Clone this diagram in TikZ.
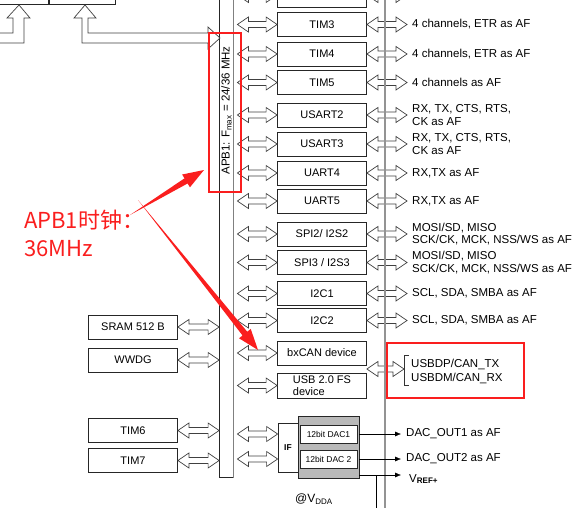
\documentclass[tikz,border=0pt]{standalone}
\usepackage{fontspec}
\setmainfont{Liberation Sans}
\newfontfamily\cjk{Noto Sans CJK SC}
\usetikzlibrary{arrows.meta, calc, positioning}

\definecolor{markred}{RGB}{250,30,30}

\tikzset{
  box/.style={draw=black!85, line width=0.8pt, fill=white, minimum width=89pt, minimum height=24pt, inner sep=0pt, font=\fontsize{11}{12}\selectfont},
  pintext/.style={anchor=west, align=left, inner sep=0pt, font=\fontsize{11.5}{12.5}\selectfont},
  hollow/.style={draw=black!75, line width=0.7pt, fill=white, line join=miter},
  redbox/.style={draw=markred, line width=2.5pt, inner sep=0pt}
}

% hollow double arrow between two points (same height as the first one)
\newcommand{\hollowdbl}[2]{%
  \draw[hollow] let \p1=(#1), \p2=(#2) in
    (\x1,\y1) -- (\x1+11pt,\y1+7.5pt) -- (\x1+11pt,\y1+3pt) -- (\x2-11pt,\y1+3pt)
    -- (\x2-11pt,\y1+7.5pt) -- (\x2,\y1) -- (\x2-11pt,\y1-7.5pt) -- (\x2-11pt,\y1-3pt)
    -- (\x1+11pt,\y1-3pt) -- (\x1+11pt,\y1-7.5pt) -- cycle;}

% tapered red pointer from #1 to #2
\newcommand{\redpointer}[2]{%
  \coordinate (hb) at ($(#2)!21pt!(#1)$);
  \fill[markred] (#1) -- ($(hb)!3pt!90:(#2)$) -- ($(hb)!7.5pt!90:(#2)$) -- (#2)
    -- ($(hb)!7.5pt!-90:(#2)$) -- ($(hb)!3pt!-90:(#2)$) -- cycle;}

\begin{document}
\begin{tikzpicture}[x=1pt, y=-1pt]
  \useasboundingbox (0,0) rectangle (581,508);
  \clip (0,0) rectangle (581,508);

  % Bridges (cut at the top)
  \node[box, minimum width=70pt, minimum height=16pt, anchor=south east] (apbtwo) at (49,5) {APB2};
  \node[box, minimum width=66pt, minimum height=16pt, anchor=south west] (apbone) at (49,5) {APB1};
  \draw[hollow] (-5,33) -- (13,33) -- (13,18) -- (7,18) -- (19,5) -- (30,18) -- (24,18) -- (24,43) -- (-5,43);

  % APB1 bus
  \node[draw=black!85, line width=0.8pt, fill=white, minimum width=13.5pt, minimum height=500pt, inner sep=0pt, anchor=south] (bus) at (226.25,478) {};
  \draw[gray, line width=1.5pt] (bus.north east) -- (bus.south east);
  \node[rotate=90, inner sep=0pt, font=\fontsize{11.5}{12}\selectfont] (buslabel) at (226.5,110.5) {APB1: F\textsubscript{max} = 24/36 MHz};
  \draw[hollow] (82,18) -- (74,18) -- (85,5) -- (96,18) -- (88,18) -- (88,33) -- (208,33) -- (208,27) -- (220,38) -- (208,49) -- (208,43) -- (82,43) -- cycle;

  % Peripherals with their pins
  \coordinate (pinend) at (407,0);
  \foreach \nm/\lbl/\yy/\pin in {
      tim2/TIM2/-5/{4 channels, ETR as AF},
      tim3/TIM3/24.5/{4 channels, ETR as AF},
      tim4/TIM4/54/{4 channels, ETR as AF},
      tim5/TIM5/82.5/{4 channels as AF},
      usart2/USART2/115/{RX, TX, CTS, RTS,\\CK as AF},
      usart3/USART3/144/{RX, TX, CTS, RTS,\\CK as AF},
      uart4/UART4/173/{RX,TX as AF},
      uart5/UART5/201/{RX,TX as AF},
      spi2/{SPI2/ I2S2}/234/{MOSI/SD, MISO\\SCK/CK, MCK, NSS/WS as AF},
      spi3/{SPI3 / I2S3}/262.5/{MOSI/SD, MISO\\SCK/CK, MCK, NSS/WS as AF},
      i2cone/I2C1/293.5/{SCL, SDA, SMBA as AF},
      i2ctwo/I2C2/320.5/{SCL, SDA, SMBA as AF}} {
    \node[box] (\nm) at (322,\yy) {\lbl};
    \hollowdbl{$(bus.east |- \nm.west)+(4,0)$}{\nm.west}
    \hollowdbl{\nm.east}{\nm.east -| pinend}
    \node[pintext] (pin-\nm) at ($(\nm.east -| pinend)+(5,0)$) {\pin};
  }

  % CAN / USB
  \node[box] (bxcan) at (322,353) {bxCAN device};
  \node[box, minimum height=25pt, align=left, font=\fontsize{11}{11.5}\selectfont] (usb) at (322,385.5) {USB 2.0 FS\\device};
  \hollowdbl{$(bus.east |- bxcan.west)+(4,0)$}{bxcan.west}
  \hollowdbl{$(bus.east |- usb.west)+(4,0)$}{usb.west}
  \coordinate (canmid) at ($(bxcan.south east)!0.5!(usb.north east)$);
  \coordinate (brk) at (404,0);
  \hollowdbl{canmid}{canmid -| brk}
  \draw[black!80, line width=0.8pt] (409,355) -- (404,355) -- (404,385) -- (409,385);
  \node[pintext, font=\fontsize{11.5}{14}\selectfont] (canpins) at (411,371) {USBDP/CAN\_TX\\USBDM/CAN\_RX};

  % Left side blocks
  \foreach \nm/\lbl/\yy in {sram/SRAM 512 B/327, wwdg/WWDG/360, timsix/TIM6/430.5, timseven/TIM7/460.5} {
    \node[box] (\nm) at (133,\yy) {\lbl};
    \hollowdbl{\nm.east}{bus.west |- \nm.east}
  }

  % DAC
  \node[draw=black!85, fill=gray!55, line width=0.8pt, minimum width=61pt, minimum height=62pt, inner sep=0pt] (dac) at (328.5,447) {};
  \node[box, minimum width=57pt, minimum height=18pt, font=\fontsize{8.5}{9}\selectfont] (dacone) at (328.5,434) {12bit DAC1};
  \node[box, minimum width=57pt, minimum height=18pt, font=\fontsize{8.5}{9}\selectfont] (dactwo) at (328.5,459) {12bit DAC 2};
  \node[box, minimum width=20pt, minimum height=49pt, font=\bfseries\fontsize{8.5}{9}\selectfont] (dacif) at (288,447.5) {IF};
  \hollowdbl{$(bus.east |- dacone)+(4,0)$}{dacif.west |- dacone}
  \hollowdbl{$(bus.east |- dactwo)+(4,0)$}{dacif.west |- dactwo}

  % Pin line
  \draw[gray!85, line width=2.5pt] (385,-5) -- (385,513);

  % DAC outputs
  \coordinate (outend) at (401,0);
  \coordinate (vrefst) at (dac.east |- 0,475);
  \draw[-{Latex[length=6pt, width=5pt]}] (dac.east |- dacone) -- (outend |- dacone);
  \draw[-{Latex[length=6pt, width=5pt]}] (dac.east |- dactwo) -- (outend |- dactwo);
  \draw[-{Latex[length=6pt, width=5pt]}] (vrefst) -- (outend |- vrefst);
  \draw (376,475) -- (376,513);
  \node[pintext] (outone) at ($(outend |- dacone)+(5,0)$) {DAC\_OUT1 as AF};
  \node[pintext] (outtwo) at ($(outend |- dactwo)+(5,0)$) {DAC\_OUT2 as AF};
  \node[pintext] (vref) at (409,479) {V\textsubscript{\bfseries REF+}};
  \node[font=\fontsize{12}{12}\selectfont] (vdda) at (314,499) {@V\textsubscript{DDA}};

  % Red marks
  \node[redbox, minimum width=32pt, minimum height=159pt] (busmark) at (225,112.5) {};
  \node[redbox, minimum width=137pt, minimum height=55pt] (canmark) at (455.5,370.5) {};
  \node[anchor=base west, inner sep=0pt, text=markred, font=\cjk\fontsize{22}{28}\selectfont] (notea) at (24,228.5) {APB1时钟：};
  \node[anchor=base west, inner sep=0pt, text=markred, font=\cjk\fontsize{22}{28}\selectfont] (noteb) at (24,256.5) {36MHz};
  \coordinate (tailA) at (130,215);
  \coordinate (tipA) at (204,170);
  \coordinate (tailB) at (138,200);
  \coordinate (tipB) at (258,350);
  \redpointer{tailA}{tipA}
  \redpointer{tailB}{tipB}
\end{tikzpicture}
\end{document}
